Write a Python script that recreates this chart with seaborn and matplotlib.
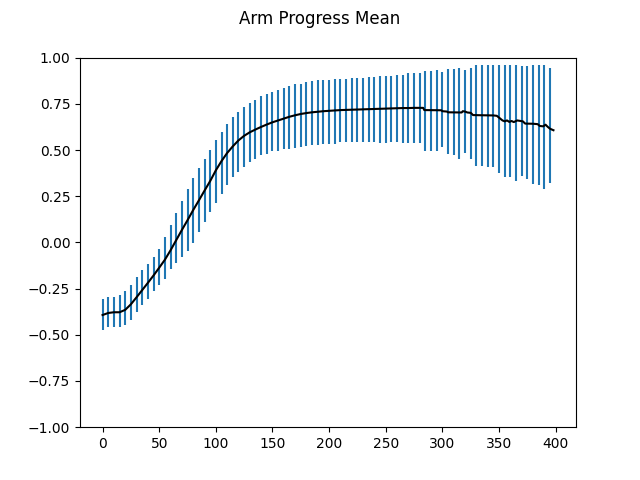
import numpy as np
import pandas as pd
import matplotlib
matplotlib.use('Agg')
import matplotlib.pyplot as plt
import seaborn as sns

# Mean curve
mean_steps = [0, 5, 10, 15, 20, 25, 30, 35, 40, 45, 50, 55, 60, 65, 70, 75, 80, 85, 90, 95,
              100, 105, 110, 115, 120, 125, 130, 135, 140, 145, 150, 155, 160, 165, 170, 175,
              180, 185, 190, 195, 200, 205, 210, 215, 220, 225, 230, 235, 240, 245, 250, 255,
              260, 265, 270, 275, 280, 283, 284, 299, 300, 304, 305, 317, 318, 320, 322, 325,
              327, 335, 345, 348, 350, 353, 355, 357, 359, 361, 363, 366, 368, 371, 373, 380,
              384, 386, 389, 391, 393, 395, 398]
mean_vals = [-0.393, -0.382, -0.378, -0.378, -0.365, -0.335, -0.297, -0.258, -0.219, -0.179,
             -0.137, -0.094, -0.043, 0.012, 0.067, 0.120, 0.175, 0.227, 0.280, 0.332,
             0.390, 0.440, 0.484, 0.520, 0.552, 0.577, 0.596, 0.611, 0.625, 0.638, 0.650, 0.660,
             0.670, 0.680, 0.688, 0.695, 0.700, 0.704, 0.707, 0.710, 0.712, 0.714, 0.716, 0.717,
             0.718, 0.719, 0.720, 0.721, 0.722, 0.723, 0.724, 0.725, 0.726, 0.727, 0.727, 0.728,
             0.728, 0.728, 0.716, 0.715, 0.710, 0.708, 0.704, 0.703, 0.710, 0.708, 0.703, 0.701,
             0.689, 0.688, 0.687, 0.685, 0.675, 0.660, 0.655, 0.660, 0.652, 0.657, 0.651, 0.660,
             0.658, 0.655, 0.643, 0.642, 0.640, 0.630, 0.628, 0.637, 0.625, 0.615, 0.607]

# Error bars every 5 steps
bar_steps = list(range(0, 400, 5))
bar_lo = [-0.474, -0.459, -0.459, -0.459, -0.449, -0.420, -0.377, -0.340, -0.304, -0.261,
          -0.232, -0.196, -0.142, -0.110, -0.080, -0.049, -0.002, 0.056, 0.110, 0.164,
          0.214, 0.261, 0.308, 0.355, 0.380, 0.409, 0.434, 0.449, 0.474, 0.477,
          0.492, 0.496, 0.503, 0.506, 0.510, 0.517, 0.521, 0.528, 0.528, 0.531,
          0.535, 0.535, 0.542, 0.542, 0.542, 0.542, 0.542, 0.542, 0.542, 0.539,
          0.539, 0.542, 0.541, 0.537, 0.537, 0.537, 0.537, 0.497, 0.497, 0.497,
          0.515, 0.476, 0.472, 0.454, 0.486, 0.454, 0.411, 0.411, 0.407, 0.407,
          0.378, 0.353, 0.353, 0.331, 0.359, 0.342, 0.315, 0.310, 0.288, 0.321]
bar_hi = [-0.308, -0.297, -0.297, -0.286, -0.265, -0.232, -0.189, -0.150, -0.119, -0.081,
          -0.038, 0.027, 0.092, 0.157, 0.222, 0.290, 0.346, 0.400, 0.449, 0.499,
          0.553, 0.600, 0.638, 0.676, 0.708, 0.731, 0.753, 0.769, 0.791, 0.805,
          0.816, 0.827, 0.838, 0.849, 0.856, 0.859, 0.870, 0.874, 0.877, 0.881,
          0.881, 0.886, 0.886, 0.886, 0.892, 0.892, 0.892, 0.897, 0.897, 0.903,
          0.903, 0.903, 0.908, 0.908, 0.914, 0.914, 0.919, 0.930, 0.930, 0.935,
          0.924, 0.941, 0.941, 0.946, 0.935, 0.946, 0.962, 0.962, 0.962, 0.962,
          0.962, 0.962, 0.962, 0.962, 0.957, 0.957, 0.962, 0.962, 0.962, 0.946]

mean_df = pd.DataFrame({'step': mean_steps, 'value': mean_vals})

fig, ax = plt.subplots(figsize=(6.4, 4.8), dpi=100)
ax.vlines(bar_steps, bar_lo, bar_hi, color='C0', linewidth=1.5)
sns.lineplot(data=mean_df, x='step', y='value', color='black', linewidth=1.5, ax=ax)
ax.set_ylim(-1, 1)
ax.set_xlabel('')
ax.set_ylabel('')
fig.suptitle('Arm Progress Mean')

plt.savefig('out.png', dpi=100)
